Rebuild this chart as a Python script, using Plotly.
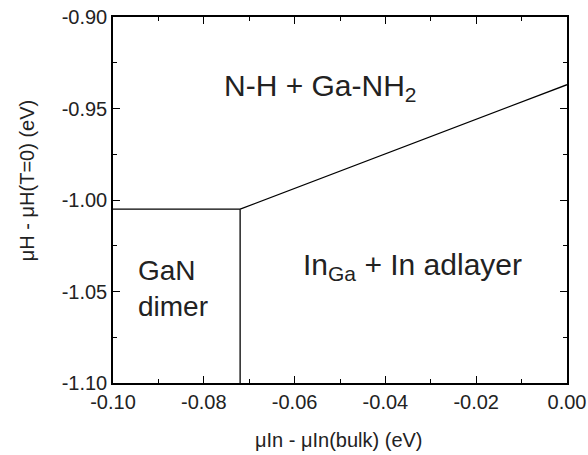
import plotly.graph_objects as go

# Phase boundary data (eV)
h_boundary_x = [-0.10, -0.072]
h_boundary_y = [-1.005, -1.005]
v_boundary_x = [-0.072, -0.072]
v_boundary_y = [-1.10, -1.005]
d_boundary_x = [-0.072, 0.00]
d_boundary_y = [-1.005, -0.937]

x_ticks = [-0.10, -0.08, -0.06, -0.04, -0.02, 0.00]
y_ticks = [-1.10, -1.05, -1.00, -0.95, -0.90]
x_minor = [-0.09, -0.07, -0.05, -0.03, -0.01]
y_minor = [-1.075, -1.025, -0.975, -0.925]

labels = [
    dict(text="N-H + Ga-NH<sub>2</sub>", x=-0.0542, y=-0.9385, align="center", size=30),
    dict(text="In<sub>Ga</sub> + In adlayer", x=-0.0340, y=-1.0365, align="center", size=30),
    dict(text="GaN<br>dimer", x=-0.0868, y=-1.0486, align="left", size=28),
]

x_title = "μIn - μIn(bulk) (eV)"
y_title = "μH - μH(T=0) (eV)"

fig = go.Figure()
line_style = dict(color="black", width=1.3)
for xs, ys in [(h_boundary_x, h_boundary_y), (v_boundary_x, v_boundary_y), (d_boundary_x, d_boundary_y)]:
    fig.add_trace(go.Scatter(x=xs, y=ys, mode="lines", line=line_style,
                             showlegend=False, hoverinfo="skip"))

for lab in labels:
    fig.add_annotation(x=lab["x"], y=lab["y"], text=lab["text"], showarrow=False,
                       align=lab["align"], xanchor="center", yanchor="middle",
                       font=dict(size=lab["size"], color="#222222"))

fig.add_annotation(xref="paper", yref="paper", x=0.498, y=-0.156, text=x_title,
                   xanchor="center", yanchor="middle",
                   showarrow=False, font=dict(size=20, color="#222222"))
fig.add_annotation(xref="paper", yref="paper", x=-0.189, y=0.552, text=y_title,
                   xanchor="center", yanchor="middle",
                   showarrow=False, textangle=-90, font=dict(size=20, color="#222222"))

axis_common = dict(
    showgrid=False, zeroline=False, showline=True, linecolor="black", linewidth=1.5,
    mirror="ticks", ticks="inside", ticklen=7, tickwidth=1.3, tickcolor="black",
    tickfont=dict(size=20, color="#222222"), automargin=False,
    ticklabeloverflow="allow",
)
fig.update_xaxes(range=[-0.10, 0.00], tickvals=x_ticks,
                 ticktext=[f"{v:.2f}" for v in x_ticks],
                 minor=dict(ticks="inside", ticklen=4, tickwidth=1.2, tickcolor="black",
                            tickvals=x_minor),
                 **axis_common)
fig.update_yaxes(range=[-1.10, -0.90], tickvals=y_ticks,
                 ticktext=[f"{v:.2f}" for v in y_ticks],
                 minor=dict(ticks="inside", ticklen=4, tickwidth=1.2, tickcolor="black",
                            tickvals=y_minor),
                 **axis_common)

fig.update_layout(
    width=588, height=455,
    margin=dict(l=113, r=21, t=17, b=72),
    plot_bgcolor="white", paper_bgcolor="white",
    font=dict(family="Liberation Sans, Arial, sans-serif"),
)

fig.write_html("out.html", config={"displayModeBar": False},
               post_script="document.body.style.margin='0';")
